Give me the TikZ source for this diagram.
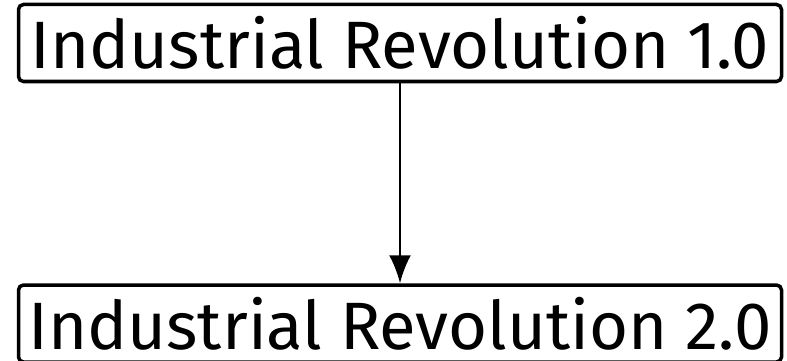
\documentclass[tikz,border=0pt]{standalone}
\usepackage{fontspec}
\setmainfont{Fira Sans}
\usepackage{tikz}
\usetikzlibrary{positioning}
\usetikzlibrary{arrows.meta}
\definecolor{black}{rgb}{0,0,0}
\definecolor{white}{rgb}{1,1,1}

\tikzset{
	era/.style={draw=black, line width=3.5pt, rounded corners=5pt, inner sep=0pt,
		minimum width=763pt, minimum height=77pt, font=\fontsize{67}{72}\selectfont},
	link/.style={-{Latex[length=28pt, width=22pt]}, line width=2.5pt}
}

\begin{document}
\begin{tikzpicture}
	\useasboundingbox (0pt,0pt) rectangle (787pt,-361pt);
	\node[era] (one) at (400pt,-43pt) {Industrial Revolution 1.0};	% top
	\node[era, below=200pt of one] (two) {Industrial Revolution 2.0};	% bottom

	\draw[link] (one) -- (two);
\end{tikzpicture}
\end{document}
